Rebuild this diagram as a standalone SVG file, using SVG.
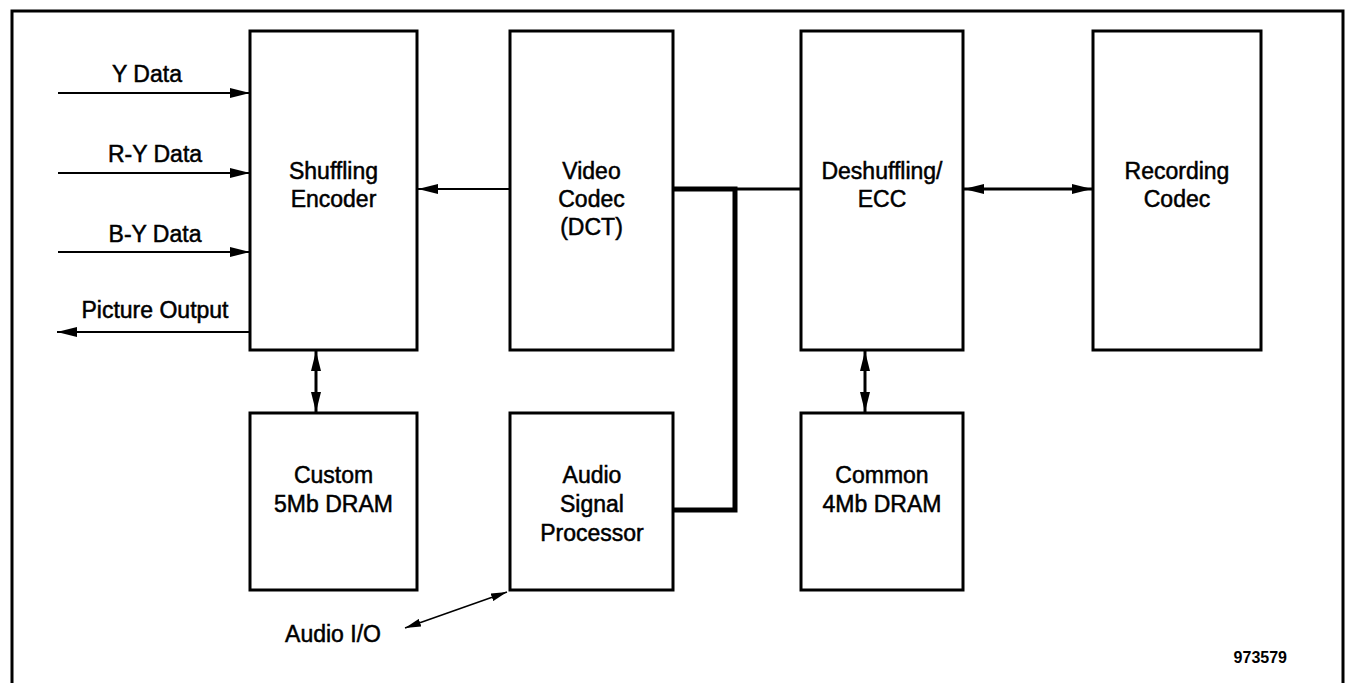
<svg xmlns="http://www.w3.org/2000/svg" width="1345" height="683" viewBox="0 0 1345 683">
<style>
.box{fill:#fff;stroke:#000;stroke-width:3}
.t{font-family:"Liberation Sans",Arial,Helvetica,sans-serif;font-size:23px;fill:#000;stroke:#000;stroke-width:0.5;text-anchor:middle}
.thin{stroke:#000;stroke-width:2;fill:none}
.med{stroke:#000;stroke-width:3;fill:none}
.bus{stroke:#000;stroke-width:5;fill:none}
</style>
<defs>
<marker id="ah" viewBox="0 0 20 10" refX="20" refY="5" markerWidth="20" markerHeight="10" markerUnits="userSpaceOnUse" orient="auto-start-reverse">
<path d="M0,0 L20,5 L0,10 z" fill="#000"/>
</marker>
<marker id="ahs" viewBox="0 0 16 8" refX="16" refY="4" markerWidth="16" markerHeight="8" markerUnits="userSpaceOnUse" orient="auto-start-reverse">
<path d="M0,0 L16,4 L0,8 z" fill="#000"/>
</marker>
</defs>
<rect width="1345" height="683" fill="#fff"/>
<path d="M12,690 V11 H1343 V690" fill="none" stroke="#000" stroke-width="3"/>

<g id="connectors">
<line class="thin" x1="58" y1="93" x2="250" y2="93" marker-end="url(#ah)"/>
<line class="thin" x1="58" y1="173" x2="250" y2="173" marker-end="url(#ah)"/>
<line class="thin" x1="58" y1="252" x2="250" y2="252" marker-end="url(#ah)"/>
<line class="thin" x1="250" y1="332" x2="57" y2="332" marker-end="url(#ah)"/>
<line class="thin" x1="510" y1="189" x2="418" y2="189" marker-end="url(#ah)"/>
<path class="bus" d="M673,189 H735 V510 H673"/>
<line class="med" x1="735" y1="189" x2="801" y2="189"/>
<line class="med" x1="964" y1="189" x2="1092" y2="189" marker-start="url(#ah)" marker-end="url(#ah)"/>
<line class="med" x1="316" y1="351" x2="316" y2="412" marker-start="url(#ah)" marker-end="url(#ah)"/>
<line class="med" x1="865" y1="351" x2="865" y2="412" marker-start="url(#ah)" marker-end="url(#ah)"/>
<line x1="405" y1="628" x2="507" y2="592" stroke="#000" stroke-width="1.5" marker-start="url(#ahs)" marker-end="url(#ahs)"/>
</g>

<g id="labels">
<text class="t" x="147" y="82">Y Data</text>
<text class="t" x="155" y="162">R-Y Data</text>
<text class="t" x="155" y="242">B-Y Data</text>
<text class="t" x="155" y="318">Picture Output</text>
<text class="t" x="333" y="642">Audio I/O</text>
<text x="1287" y="663" font-family="Liberation Sans,Arial,sans-serif" font-size="16" font-weight="bold" text-anchor="end">973579</text>
</g>

<g id="shuffling-encoder">
<rect class="box" x="250" y="31" width="167" height="319"/>
<text class="t" x="333.5" y="179">Shuffling</text>
<text class="t" x="333.5" y="207">Encoder</text>
</g>
<g id="video-codec">
<rect class="box" x="510" y="31" width="163" height="319"/>
<text class="t" x="591.5" y="179">Video</text>
<text class="t" x="591.5" y="207">Codec</text>
<text class="t" x="591.5" y="235">(DCT)</text>
</g>
<g id="deshuffling-ecc">
<rect class="box" x="801" y="31" width="162" height="319"/>
<text class="t" x="882" y="179">Deshuffling/</text>
<text class="t" x="882" y="207">ECC</text>
</g>
<g id="recording-codec">
<rect class="box" x="1093" y="31" width="168" height="319"/>
<text class="t" x="1177" y="179">Recording</text>
<text class="t" x="1177" y="207">Codec</text>
</g>
<g id="custom-dram">
<rect class="box" x="250" y="413" width="167" height="177"/>
<text class="t" x="333.5" y="483">Custom</text>
<text class="t" x="333.5" y="512">5Mb DRAM</text>
</g>
<g id="audio-signal-processor">
<rect class="box" x="510" y="413" width="163" height="177"/>
<text class="t" x="592" y="483">Audio</text>
<text class="t" x="592" y="512">Signal</text>
<text class="t" x="592" y="541">Processor</text>
</g>
<g id="common-dram">
<rect class="box" x="801" y="413" width="162" height="177"/>
<text class="t" x="882" y="483">Common</text>
<text class="t" x="882" y="512">4Mb DRAM</text>
</g>
</svg>
